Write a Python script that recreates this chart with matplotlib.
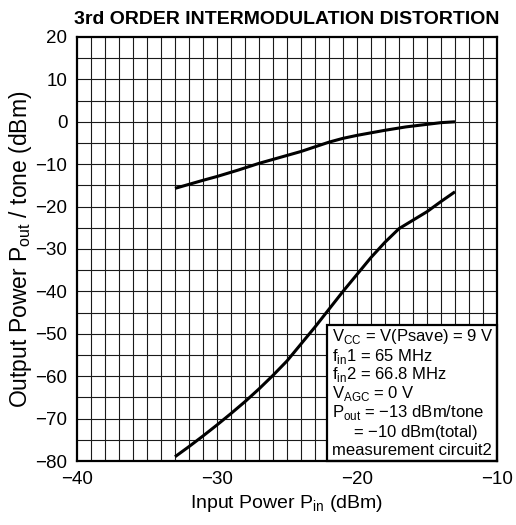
import matplotlib
matplotlib.use("Agg")
import matplotlib.pyplot as plt
from matplotlib.patches import Rectangle
import numpy as np

plt.rcParams["font.family"] = ["Liberation Sans", "DejaVu Sans"]
plt.rcParams["mathtext.fontset"] = "custom"
plt.rcParams["mathtext.rm"] = "Liberation Sans"

# fundamental output per tone
pin_fund = [-33, -31, -30, -28.5, -27, -25.5, -24, -23, -22, -21, -20, -19, -18, -16.5, -15, -14, -13]
pout_fund = [-15.7, -13.8, -12.9, -11.4, -9.8, -8.4, -7.0, -5.9, -4.8, -3.9, -3.2, -2.6, -2.0, -1.2, -0.6, -0.2, 0.0]

# 3rd order intermodulation product
pin_im3 = [-33, -32, -31, -30, -29, -28, -27, -26, -25, -24, -23, -22, -21, -20, -19, -18, -17, -16, -15, -14, -13]
pout_im3 = [-79, -76.6, -74.1, -71.5, -68.8, -66.0, -63.0, -59.8, -56.4, -52.4, -48.4, -44.2, -40.0, -36.0, -32.0, -28.4, -25.2, -23.2, -21.2, -18.8, -16.5]

xticks = [-40, -30, -20, -10]
yticks = list(range(20, -81, -10))

cond_lines = [
    r"V$_{\mathrm{CC}}$ = V(Psave) = 9 V",
    r"f$_{\mathrm{in}}$1 = 65 MHz",
    r"f$_{\mathrm{in}}$2 = 66.8 MHz",
    r"V$_{\mathrm{AGC}}$ = 0 V",
    r"P$_{\mathrm{out}}$ = $-$13 dBm/tone",
    r"= $-$10 dBm(total)",
    "measurement circuit2",
]

fig = plt.figure(figsize=(5.16, 5.25), dpi=100)
ax = fig.add_axes([77 / 516, 1 - 461 / 525, 420 / 516, 424 / 525])

ax.set_xlim(-40, -10)
ax.set_ylim(-80, 20)
for x in np.arange(-39, -10):
    ax.axvline(x, color="#1a1a1a", lw=0.8, zorder=1)
for y in np.arange(-75, 20, 5):
    ax.axhline(y, color="#1a1a1a", lw=0.8, zorder=1)

ax.plot(pin_fund, pout_fund, color="black", lw=2.2, zorder=3, solid_capstyle="butt")
ax.plot(pin_im3, pout_im3, color="black", lw=2.2, zorder=3, solid_capstyle="butt")

# condition box
ax.add_patch(Rectangle((-22.15, -80), 12.15, 32.1, facecolor="white",
                       edgecolor="black", lw=1.6, zorder=4, clip_on=False))
line_px = [337, 356, 375, 394, 413, 432, 451]
for i, (txt, py) in enumerate(zip(cond_lines, line_px)):
    xa = (332 - 77) / 420 if i != 5 else (353 - 77) / 420
    ax.text(xa, 1 - (py - 37) / 424, txt, transform=ax.transAxes,
            fontsize=12, va="center", ha="left", zorder=5)

ax.set_xticks(xticks)
ax.set_xticklabels([f"\u2212{abs(v)}" for v in xticks])
ax.set_yticks(yticks)
ax.set_yticklabels([f"\u2212{abs(v)}" if v < 0 else str(v) for v in yticks])
ax.tick_params(length=0, labelsize=13.5)
ax.tick_params(axis="y", pad=7)
ax.tick_params(axis="x", pad=7)
for s in ax.spines.values():
    s.set_linewidth(1.6)
    s.set_zorder(6)

ax.set_xlabel(r"Input Power P$_{\mathrm{in}}$ (dBm)", fontsize=14, labelpad=4)
ax.set_ylabel(r"Output Power P$_{\mathrm{out}}$ / tone (dBm)", fontsize=16.5, labelpad=1)
ax.set_title("3rd ORDER INTERMODULATION DISTORTION", fontsize=14, fontweight="bold", pad=9)

fig.savefig("out.png", dpi=100)
